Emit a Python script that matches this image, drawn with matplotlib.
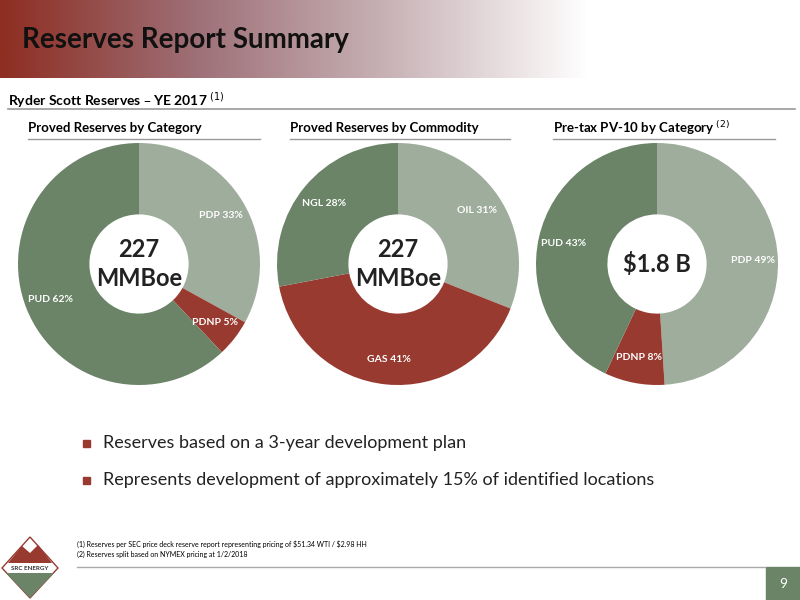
import numpy as np
import matplotlib
matplotlib.use("Agg")
import matplotlib.pyplot as plt
from matplotlib.colors import LinearSegmentedColormap

plt.rcParams['font.family'] = ['Lato', 'DejaVu Sans']

# data
cat_labels = ['PDP 33%', 'PDNP 5%', 'PUD 62%']
cat_values = [33, 5, 62]
com_labels = ['OIL 31%', 'GAS 41%', 'NGL 28%']
com_values = [31, 41, 28]
pv_labels = ['PDP 49%', 'PDNP 8%', 'PUD 43%']
pv_values = [49, 8, 43]
titles = ['Proved Reserves by Category', 'Proved Reserves by Commodity', 'Pre-tax PV-10 by Category']
centers = ['227\nMMBoe', '227\nMMBoe', '$1.8 B']

light = '#9fae9c'
red = '#983a2f'
dark = '#6b8468'
W, H = 800, 600

fig = plt.figure(figsize=(8, 6), dpi=100)

# header gradient
bg = fig.add_axes([0, 0, 1, 1])
bg.axis('off')
cmap = LinearSegmentedColormap.from_list('hdr', ['#8e2e22', '#9e7077', '#c9b4b8', '#ffffff'])
grad = np.linspace(0, 1, 300).reshape(1, -1)
bg.imshow(grad, extent=(0, 590, 78, 0), cmap=cmap, aspect='auto')
bg.set_xlim(0, W)
bg.set_ylim(H, 0)
bg.text(22, 40, 'Reserves Report Summary', fontsize=20, fontweight='bold', va='center', color='#111111')
bg.text(8, 100, 'Ryder Scott Reserves – YE 2017 $^{(1)}$', fontsize=10, fontweight='bold', va='center')
bg.plot([8, 795], [109, 109], color='#999999', lw=1.2)

title_x = [28, 290, 553]
line_x = [(28, 260), (290, 510), (553, 775)]
for i in range(3):
    t = titles[i] + (' $^{(2)}$' if i == 2 else '')
    bg.text(title_x[i], 128, t, fontsize=9.5, fontweight='bold', va='center')
    bg.plot(line_x[i], [139, 139], color='#999999', lw=1)

# donuts
data = [(cat_values, cat_labels, [light, red, dark]),
        (com_values, com_labels, [light, red, dark]),
        (pv_values, pv_labels, [light, red, dark])]
cx = [139, 398, 657]
cy = 264
r = 121
for i, (vals, labs, cols) in enumerate(data):
    ax = fig.add_axes([(cx[i] - r) / W, 1 - (cy + r) / H, 2 * r / W, 2 * r / H])
    wedges, texts = ax.pie(vals, labels=labs, colors=cols, startangle=90, counterclock=False,
                           labeldistance=0.79, wedgeprops=dict(width=0.59),
                           textprops=dict(color='white', fontsize=7.5, fontweight='bold',
                                          ha='center', va='center'))
    for t in texts:
        t.set_ha('center')
        t.set_clip_on(False)
    ax.set_xlim(-1, 1)
    ax.set_ylim(-1, 1)
    ax.set_aspect('equal')
    ax.text(0, 0, centers[i], ha='center', va='center', fontsize=17, fontweight='bold',
            color='#222222', linespacing=1.35)

# bullets
bullets = ['Reserves based on a 3-year development plan',
           'Represents development of approximately 15% of identified locations']
for j, b in enumerate(bullets):
    y = 443 + j * 37
    bg.add_patch(plt.Rectangle((83, y - 3.5), 7, 7, color=red))
    bg.text(103, y, b, fontsize=13, va='center', color='#222222')

# footnotes
bg.text(77, 544, r'(1) Reserves per SEC price deck reserve report representing pricing of \$51.34 WTI / \$2.98 HH',
        fontsize=5, va='center')
bg.text(77, 554, '(2) Reserves split based on NYMEX pricing at 1/2/2018', fontsize=5, va='center')
bg.plot([77, 765], [567, 567], color='#aaaaaa', lw=1)
bg.add_patch(plt.Rectangle((766, 567), 34, 33, color='#6b8468'))
bg.text(783, 584, '9', color='white', fontsize=10, ha='center', va='center')

# logo (simple diamond)
bg.add_patch(plt.Polygon([[30, 537], [58, 568], [30, 598], [2, 568]], closed=True,
                         facecolor='white', edgecolor='#983a2f', lw=1))
bg.add_patch(plt.Polygon([[8, 563], [22, 546], [30, 553], [38, 545], [52, 563]], closed=True,
                         facecolor='#983a2f'))
bg.add_patch(plt.Polygon([[6, 573], [54, 573], [30, 598]], closed=True, facecolor='#6b8468'))
bg.text(30, 568, 'SRC ENERGY', fontsize=4.5, ha='center', va='center', fontweight='bold', color='#333333')

fig.savefig('out.png', dpi=100)
